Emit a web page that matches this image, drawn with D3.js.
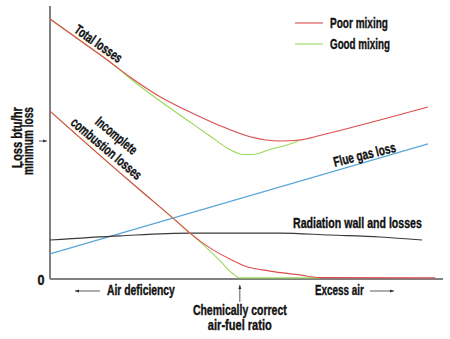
<!DOCTYPE html>
<html><head><meta charset="utf-8">
<script src="https://cdn.jsdelivr.net/npm/d3@7"></script>
<style>
body{margin:0;background:#fff;}
text{font-family:"Liberation Sans","Arial",sans-serif;font-weight:bold;fill:#111;stroke:#111;stroke-width:0.35px;}
</style></head>
<body><svg id="c" width="450" height="339"></svg>
<script>
// Air supply (0 = max deficiency, 100 = max excess) vs loss (relative units)
const totalPoorX = [0, 8.91, 15.27, 20.36, 28.0, 35.62, 43.26, 50.89, 58.52, 63.61, 68.70, 73.79, 83.97, 96.18];
const totalPoorY = [95.24, 86.08, 79.49, 73.99, 66.78, 61.17, 56.15, 52.12, 50.55, 50.92, 52.56, 54.40, 58.24, 63.00];
const totalGoodX = [0, 8.91, 15.27, 19.59, 28.0, 35.62, 40.71, 45.80, 49.11, 51.65, 55.98, 61.07, 63.61];
const totalGoodY = [95.24, 86.08, 79.49, 74.36, 65.2, 57.5, 52.4, 47.4, 45.60, 45.60, 47.44, 49.45, 50.92];
const incPoorX = [0, 17.0, 22.9, 31.3, 35.6, 40.7, 45.8, 49.6, 56.0, 63.6, 68.7, 98.0];
const incPoorY = [61.5, 39.9, 32.6, 22.3, 16.8, 11.4, 7.3, 4.8, 2.9, 1.5, 0.5, 0.4];
const incGoodX = [0, 17.0, 22.9, 31.3, 35.6, 38.2, 43.3, 46.3, 48.3, 68.7];
const incGoodY = [61.5, 39.9, 32.6, 22.3, 16.8, 13.6, 6.6, 2.2, 0.4, 0.4];
const flueX = [0, 96.2];
const flueY = [9.2, 49.5];
const radX = [0, 17.8, 35.6, 58.5, 71.2, 84.0, 94.7];
const radY = [14.3, 15.8, 16.8, 16.8, 16.1, 15.4, 14.3];
const stoichX = 48.3;
const legendLabels = ["Poor mixing", "Good mixing"];

const svg = d3.select("#c");
const x = d3.scaleLinear().domain([0, 100]).range([50, 443]);
const y = d3.scaleLinear().domain([0, 100]).range([279, 6]);
const RED = "#dd4c4c", GREEN = "#9ad85a", BLUE = "#5aa6d6", BLACK = "#3a3a3a";

const zip = (xs, ys) => xs.map((v, i) => [v, ys[i]]);
const line = d3.line().x(d => x(d[0])).y(d => y(d[1])).curve(d3.curveMonotoneX);

function draw(xs, ys, color) {
  svg.append("path").attr("d", line(zip(xs, ys))).attr("fill", "none")
    .attr("stroke", color).attr("stroke-width", 1.1);
}
// axes
svg.append("line").attr("x1", x(0)).attr("x2", x(0)).attr("y1", y(100)).attr("y2", y(0))
  .attr("stroke", "#808080").attr("stroke-width", 2);
svg.append("line").attr("x1", x(0)).attr("x2", x(100)).attr("y1", y(0)).attr("y2", y(0))
  .attr("stroke", "#808080").attr("stroke-width", 2);

draw(flueX, flueY, BLUE);
draw(radX, radY, BLACK);
draw(totalGoodX, totalGoodY, GREEN);
draw(incGoodX, incGoodY, GREEN);
draw(totalPoorX, totalPoorY, RED);
draw(incPoorX, incPoorY, RED);

// arrow marker
const defs = svg.append("defs");
defs.append("marker").attr("id", "ah").attr("viewBox", "0 0 10 10").attr("refX", 10).attr("refY", 5)
  .attr("markerWidth", 5).attr("markerHeight", 5).attr("orient", "auto")
  .append("path").attr("d", "M0,1 L10,5 L0,9 Z").attr("fill", "#333");

// condensed text: natural width is measured, then squeezed horizontally to target length
function txt(t, px, py, len, anchor, ang, dy) {
  const el = svg.append("text").style("font-size", "14px").text(t)
    .attr("text-anchor", anchor || "start");
  if (dy) el.attr("dy", dy);
  const nat = el.node().getComputedTextLength();
  const s = len / nat;
  el.attr("transform", `translate(${px},${py}) rotate(${ang || 0}) scale(${s},1)`);
  return el;
}

// minimum loss tick arrow
const minLoss = d3.min(totalPoorY);
svg.append("line").attr("x1", 39).attr("x2", 47).attr("y1", y(minLoss)).attr("y2", y(minLoss))
  .attr("stroke", "#333").attr("stroke-width", 0.8).attr("marker-end", "url(#ah)");

// y labels
txt("Loss btu/hr", 22, 137.5, 61, "middle", -90);
txt("minimum loss", 33, 141, 68, "middle", -90);
txt("0", 41, 285, 7, "middle");

// x labels
svg.append("line").attr("x1", 100).attr("x2", 75).attr("y1", 291).attr("y2", 291)
  .attr("stroke", "#333").attr("stroke-width", 0.8).attr("marker-end", "url(#ah)");
txt("Air deficiency", 107, 295, 68, "start");
txt("Excess air", 315, 295, 49, "start");
svg.append("line").attr("x1", 370).attr("x2", 394).attr("y1", 291).attr("y2", 291)
  .attr("stroke", "#333").attr("stroke-width", 0.8).attr("marker-end", "url(#ah)");
svg.append("line").attr("x1", x(stoichX)).attr("x2", x(stoichX)).attr("y1", 302).attr("y2", 285)
  .attr("stroke", "#333").attr("stroke-width", 0.8).attr("marker-end", "url(#ah)");
txt("Chemically correct", x(stoichX), 315, 94, "middle");
txt("air-fuel ratio", x(stoichX), 330, 64, "middle");

// curve labels
txt("Total losses", 98.5, 43.5, 55, "middle", 35, "0.35em");
txt("Incomplete", 116.5, 135.5, 50, "middle", 40, "0.35em");
txt("combustion losses", 106.5, 148.5, 88, "middle", 40, "0.35em");
txt("Flue gas loss", 364.5, 154.5, 64, "middle", -14, "0.35em");
txt("Radiation wall and losses", 293, 228, 129, "start");

// legend
const lg = [[RED, 23, 28], [GREEN, 44, 49]];
lg.forEach((d, i) => {
  svg.append("line").attr("x1", 295).attr("x2", 323).attr("y1", d[1]).attr("y2", d[1])
    .attr("stroke", d[0]).attr("stroke-width", 1.1);
  txt(legendLabels[i], 330, d[2], i === 0 ? 58 : 60, "start");
});
</script></body></html>
